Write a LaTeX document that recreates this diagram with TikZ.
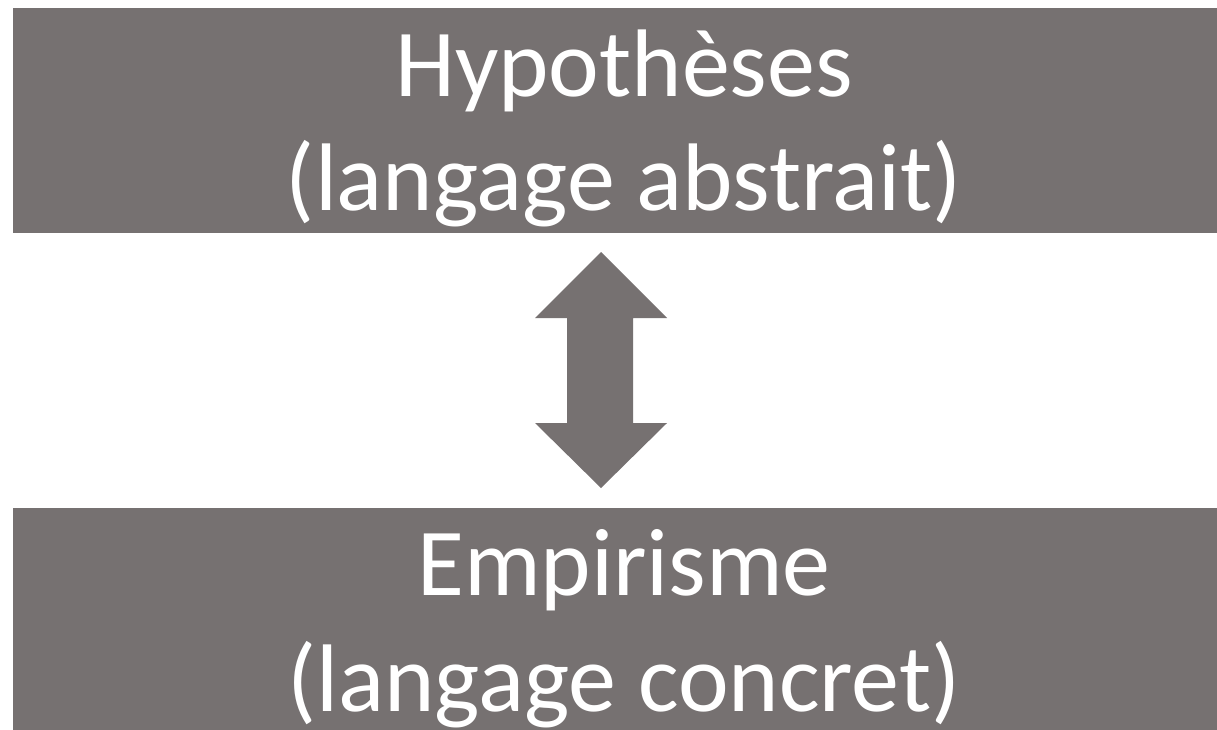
\documentclass[tikz,border=0pt]{standalone}
\usepackage{fontspec}
\setmainfont{Carlito}
\definecolor{boxgrey}{RGB}{118,113,113}
\begin{document}
\begin{tikzpicture}[x=1pt,y=-1pt,
  panel/.style={fill=boxgrey, draw=none},
  label/.style={text=white, anchor=base, inner sep=0pt, font=\fontsize{96}{110}\selectfont},
  arrowshape/.style={fill=boxgrey, draw=none}]
\useasboundingbox (0,0) rectangle (1217,729);
\fill[white] (0,0) rectangle (1217,729);
% panels
\path[panel] (13,8) rectangle (1240,233);
\path[panel] (13,508) rectangle (1240,745);
\coordinate (top) at (13,8);
% texts
\node[label] (h1) at (624,96) {Hypothèses};
\node[label] (h2) at (624,210) {(langage abstrait)};
\node[label] (e1) at (624,595) {Empirisme};
\node[label] (e2) at (624,711) {(langage concret)};
% double arrow
\path[arrowshape] (601,252) -- (667,318) -- (633,318) -- (633,423) -- (667,423)
  -- (601,488) -- (535,423) -- (567,423) -- (567,318) -- (535,318) -- cycle;
\end{tikzpicture}
\end{document}
